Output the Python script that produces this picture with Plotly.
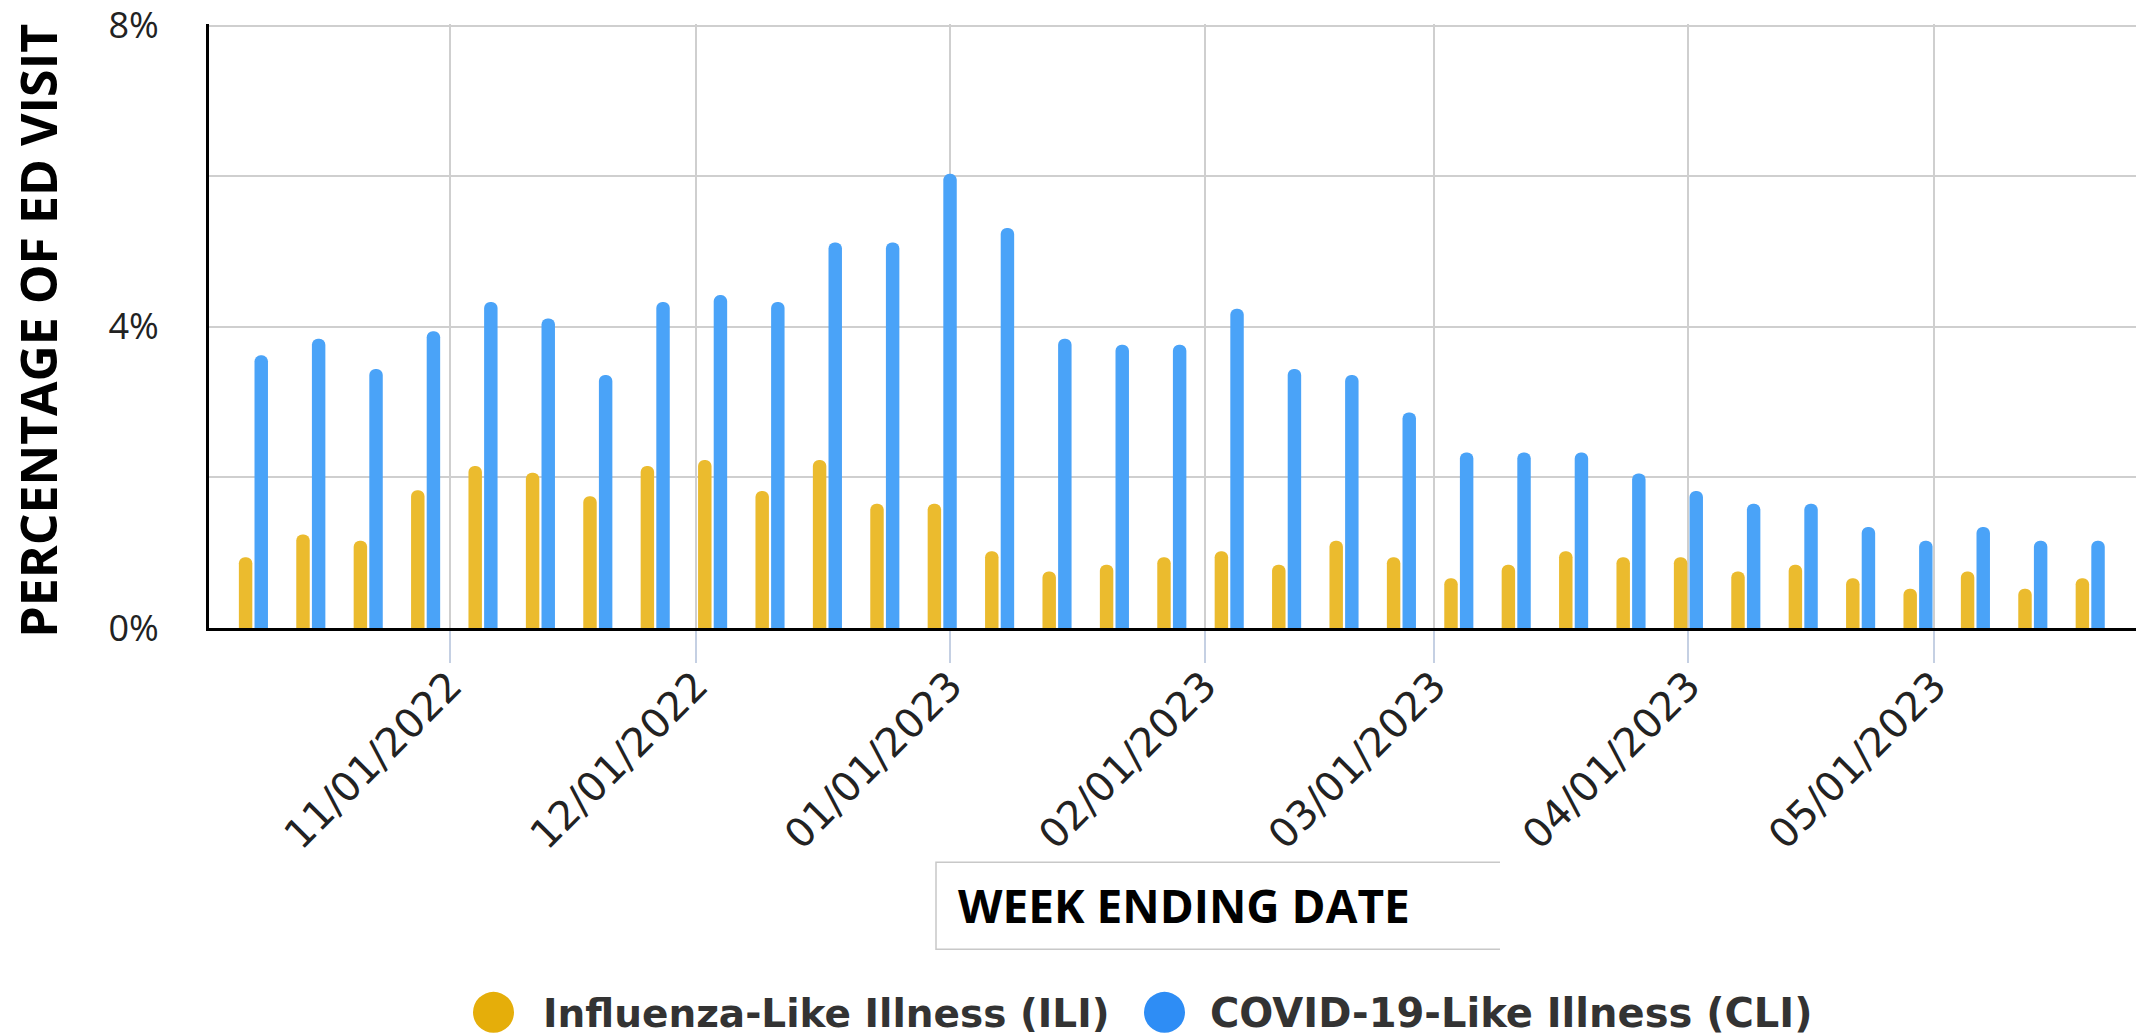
import plotly.graph_objects as go

# week ending dates (Saturdays)
weeks = [
    "2022-10-08", "2022-10-15", "2022-10-22", "2022-10-29",
    "2022-11-05", "2022-11-12", "2022-11-19", "2022-11-26",
    "2022-12-03", "2022-12-10", "2022-12-17", "2022-12-24", "2022-12-31",
    "2023-01-07", "2023-01-14", "2023-01-21", "2023-01-28",
    "2023-02-04", "2023-02-11", "2023-02-18", "2023-02-25",
    "2023-03-04", "2023-03-11", "2023-03-18", "2023-03-25",
    "2023-04-01", "2023-04-08", "2023-04-15", "2023-04-22", "2023-04-29",
    "2023-05-06", "2023-05-13", "2023-05-20",
]

# percent of ED visits
ili = [0.94, 1.24, 1.16, 1.83, 2.15, 2.06, 1.75, 2.15, 2.23, 1.82, 2.23,
       1.65, 1.65, 1.02, 0.75, 0.84, 0.94, 1.02, 0.84, 1.16, 0.94, 0.66,
       0.84, 1.02, 0.94, 0.94, 0.75, 0.84, 0.66, 0.52, 0.75, 0.52, 0.66]
cli = [3.62, 3.84, 3.44, 3.94, 4.33, 4.11, 3.36, 4.33, 4.42, 4.33, 5.12,
       5.12, 6.03, 5.31, 3.84, 3.76, 3.76, 4.24, 3.44, 3.36, 2.86, 2.33,
       2.33, 2.33, 2.05, 1.82, 1.65, 1.65, 1.34, 1.16, 1.34, 1.16, 1.16]

month_ticks = ["2022-11-01", "2022-12-01", "2023-01-01", "2023-02-01",
               "2023-03-01", "2023-04-01", "2023-05-01"]
month_labels = ["11/01/2022", "12/01/2022", "01/01/2023", "02/01/2023",
                "03/01/2023", "04/01/2023", "05/01/2023"]

y_ticks = [0, 4, 8]
y_labels = ["0%", "4%", "8%"]

names = ["Influenza-Like Illness (ILI)", "COVID-19-Like Illness (CLI)"]

W, H = 2139, 1036
# y range runs a hair past 8 so the top grid line is not clipped away
Y_TOP = 8.02
L, R, B = 209, 2136, 628
T = B - (B - 26) * Y_TOP / 8


def px(x):
    return (x - L) / (R - L)


def py(y):
    return (B - y) / (B - T)


fig = go.Figure()
fig.add_trace(go.Bar(x=weeks, y=ili, name=names[0], showlegend=False,
                     marker=dict(color="#EBBB2E", cornerradius="50%")))
fig.add_trace(go.Bar(x=weeks, y=cli, name=names[1], showlegend=False,
                     marker=dict(color="#4AA3F8", cornerradius="50%")))

shapes = [
    # box round the x title (open on the right)
    dict(type="path", xref="paper", yref="paper",
         path=f"M {px(1500)},{py(862)} L {px(936)},{py(862)} "
              f"L {px(936)},{py(949)} L {px(1500)},{py(949)}",
         line=dict(color="#C8C8C8", width=1.5)),
]
# legend dots
for cx, col in [(493.5, "#E5AE0A"), (1164.5, "#2E8DF5")]:
    shapes.append(dict(type="circle", xref="paper", yref="paper",
                       xsizemode="pixel", ysizemode="pixel",
                       xanchor=px(cx), yanchor=py(1012),
                       x0=-20.5, x1=20.5, y0=-20.5, y1=20.5,
                       fillcolor=col, line=dict(width=0)))

annotations = [
    dict(text="PERCENTAGE OF ED VISIT", textangle=-90, xref="paper", yref="paper",
         x=px(38), y=py(331), xanchor="center", yanchor="middle", showarrow=False,
         font=dict(family="Open Sans", size=50, color="#000000", weight="bold")),
    dict(text="WEEK ENDING DATE", xref="paper", yref="paper",
         x=px(956), y=py(905), xanchor="left", yanchor="middle", showarrow=False,
         font=dict(family="Open Sans", size=46, color="#000000", weight="bold")),
    dict(text=names[0], xref="paper", yref="paper",
         x=px(541), y=py(1013), xanchor="left", yanchor="middle", showarrow=False,
         font=dict(family="DejaVu Sans", size=39, color="#333333", weight="bold")),
    dict(text=names[1], xref="paper", yref="paper",
         x=px(1208), y=py(1013), xanchor="left", yanchor="middle", showarrow=False,
         font=dict(family="DejaVu Sans", size=40, color="#333333", weight="bold")),
]

fig.update_layout(
    template="none",
    width=W, height=H,
    margin=dict(l=L, r=W - R, t=T, b=H - B, autoexpand=False),
    paper_bgcolor="white", plot_bgcolor="white",
    barmode="group", bargap=0.455, bargroupgap=0.14,
    showlegend=False,
    shapes=shapes,
    annotations=annotations,
    xaxis=dict(
        type="date",
        range=["2022-10-02 14:00", "2023-05-25 14:00"],
        tickvals=month_ticks, ticktext=month_labels, tickangle=-45,
        ticks="outside", ticklen=32, tickwidth=1.5, tickcolor="#C5D0E3",
        ticklabelstandoff=-17,
        tickfont=dict(family="DejaVu Sans", size=40, color="#222222"),
        showgrid=True, gridcolor="#CFCFCF", gridwidth=2,
        showline=True, linecolor="#000000", linewidth=3,
        zeroline=False,
    ),
    yaxis=dict(
        range=[0, Y_TOP],
        tickvals=y_ticks, ticktext=y_labels, ticks="",
        ticklabelstandoff=40, ticklabeloverflow="allow",
        tickfont=dict(family="Open Sans", size=36, color="#222222"),
        showgrid=True, gridcolor="#CFCFCF", gridwidth=2,
        minor=dict(tickvals=[2, 6], showgrid=True, gridcolor="#CFCFCF", gridwidth=2),
        showline=True, linecolor="#000000", linewidth=3,
        zeroline=False,
    ),
)

# drop the default 8px page margin so the figure fills the window
fig.write_html("out.html", config={"displayModeBar": False},
               post_script="document.body.style.margin='0';")
